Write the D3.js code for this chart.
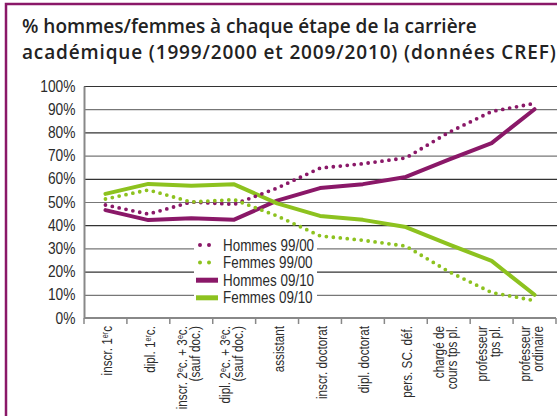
<!DOCTYPE html>
<html>
<head>
<meta charset="utf-8">
<script src="https://cdn.jsdelivr.net/npm/d3@7"></script>
<style>
  body { margin: 0; background: #fff; }
  svg { display: block; }
  .narrow { font-family: "Liberation Sans", Arial, sans-serif; }
</style>
</head>
<body>
<div id="viz"></div>
<script>
var width = 557;
var height = 416;

// categories (label lines, superscripts between ^)
var categories = [
  ["inscr. 1^er^c"],
  ["dipl. 1^er^c."],
  ["inscr. 2^e^c. + 3^e^c.", "(sauf doc.)"],
  ["dipl. 2^e^c. + 3^e^c.", "(sauf doc.)"],
  ["assistant"],
  ["inscr. doctorat"],
  ["dipl. doctorat"],
  ["pers. SC. déf."],
  ["chargé de", "cours tps pl."],
  ["professeur", "tps pl."],
  ["professeur", "ordinaire"]
];

var hommes9900 = [48.7, 44.8, 50, 49, 56, 64.6, 66.5, 69, 80, 89, 92.5];
var femmes9900 = [51.3, 55.2, 50, 51, 44, 35.4, 33.5, 31, 20, 11, 7.5];
var hommes0910 = [46.5, 42.2, 43, 42.4, 50.6, 56, 57.7, 60.8, 68.3, 75.4, 90];
var femmes0910 = [53.5, 57.8, 57, 57.6, 49.4, 44, 42.3, 39.2, 31.7, 24.6, 10];

var yTicks = [0, 10, 20, 30, 40, 50, 60, 70, 80, 90, 100];

var purple = "#8a1868";
var green = "#8dc21f";

var series = [
  { name: "Hommes 99/00", values: hommes9900, color: purple, dotted: true },
  { name: "Femmes 99/00", values: femmes9900, color: green, dotted: true },
  { name: "Hommes 09/10", values: hommes0910, color: purple, dotted: false },
  { name: "Femmes 09/10", values: femmes0910, color: green, dotted: false }
];

var svg = d3.select("#viz")
  .append("svg")
    .attr("width", width)
    .attr("height", height);

// frame
svg.append("path")
  .attr("d", "M6,416 V4 H557")
  .attr("fill", "none")
  .attr("stroke", purple)
  .attr("stroke-width", 2.5);

// title
var title = svg.append("text")
  .attr("fill", "#222")
  .style("font-family", "'Open Sans', sans-serif")
  .style("font-weight", 600)
  .style("font-size", "19px");
title.append("tspan").attr("x", 22).attr("y", 33)
  .text("% hommes/femmes à chaque étape de la carrière");
title.append("tspan").attr("x", 22).attr("y", 59)
  .style("letter-spacing", "0.85px")
  .text("académique (1999/2000 et 2009/2010) (données CREF)");

var x = d3.scaleBand()
  .domain(d3.range(categories.length))
  .range([84, 556]);

var y = d3.scaleLinear()
  .domain([0, 100])
  .range([318, 86]);

// gridlines
svg.append("g")
  .selectAll("line")
  .data(yTicks.filter(function(d) { return d > 0; }))
  .join("line")
    .attr("x1", 84)
    .attr("x2", 557)
    .attr("y1", function(d) { return y(d) + 0.5; })
    .attr("y2", function(d) { return y(d) + 0.5; })
    .attr("stroke", function(d, i) { return i % 2 ? "#333" : "#777"; })
    .attr("stroke-width", 1.2);

// y axis
var yAxis = svg.append("g")
  .attr("transform", "translate(84,0)")
  .call(d3.axisLeft(y).tickValues(yTicks).tickSize(0).tickPadding(10)
    .tickFormat(function(d) { return d + "%"; }));
yAxis.select(".domain").attr("stroke", "#888").attr("stroke-width", 2);
yAxis.selectAll("text")
  .attr("class", "narrow")
  .attr("fill", "#2b2b2b")
  .attr("transform", "scale(0.86,1)")
  .style("font-size", "16px");

// x axis
var xAxis = svg.append("g")
  .attr("transform", "translate(0,318)");
xAxis.append("line")
  .attr("x1", 84).attr("x2", 556)
  .attr("stroke", "#888").attr("stroke-width", 2);
xAxis.selectAll("line.tick")
  .data(d3.range(categories.length + 1))
  .join("line")
    .attr("class", "tick")
    .attr("x1", function(d) { return x.range()[0] + d * x.bandwidth(); })
    .attr("x2", function(d) { return x.range()[0] + d * x.bandwidth(); })
    .attr("y1", 0).attr("y2", 6)
    .attr("stroke", "#888").attr("stroke-width", 1.5);

// x labels, rotated, with superscripts
function addRich(textSel, str) {
  var parts = str.split("^");
  parts.forEach(function(p, i) {
    if (p === "") return;
    var t = textSel.append("tspan").text(p);
    if (i % 2 === 1) {
      t.attr("dy", -4).style("font-size", "8.5px");
    } else if (i > 0) {
      t.attr("dy", 4);
    }
  });
}

categories.forEach(function(lines, i) {
  var cx = x(i) + x.bandwidth() / 2;
  var n = lines.length;
  lines.forEach(function(line, j) {
    var off = n > 1 ? -3 + (j - 0.5) * 13 : 1.5;
    var t = svg.append("text")
      .attr("class", "narrow")
      .attr("text-anchor", "end")
      .attr("fill", "#2b2b2b")
      .style("font-size", "14px")
      .attr("transform", "translate(" + (cx + off + 5) + ",326) rotate(-90) scale(0.84,1)");
    addRich(t, line);
  });
});

// lines
var line = d3.line()
  .x(function(d, i) { return x(i) + x.bandwidth() / 2; })
  .y(function(d) { return y(d); });

// draw solid first, then dotted on top
[2, 3, 0, 1].forEach(function(k) {
  var s = series[k];
  svg.append("path")
    .datum(s.values)
    .attr("fill", "none")
    .attr("stroke", s.color)
    .attr("stroke-width", s.dotted ? 3.8 : 4)
    .attr("stroke-linecap", "round")
    .attr("stroke-linejoin", "round")
    .attr("stroke-dasharray", s.dotted ? "0 7" : null)
    .attr("d", line);
});

// legend
var legend = svg.append("g");
legend.append("rect")
  .attr("x", 194).attr("y", 236)
  .attr("width", 123).attr("height", 67)
  .attr("fill", "#fff");

var rows = legend.selectAll("g.row")
  .data(series)
  .join("g")
    .attr("class", "row")
    .attr("transform", function(d, i) { return "translate(0," + (244 + i * 17.6) + ")"; });

rows.append("line")
  .attr("x1", function(d) { return d.dotted ? 200 : 196; })
  .attr("x2", 218)
  .attr("y1", 1).attr("y2", 1)
  .attr("stroke", function(d) { return d.color; })
  .attr("stroke-width", function(d) { return d.dotted ? 4 : 5; })
  .attr("stroke-linecap", function(d) { return d.dotted ? "round" : "butt"; })
  .attr("stroke-dasharray", function(d) { return d.dotted ? "0 9" : null; });

rows.append("text")
  .attr("class", "narrow")
  .attr("transform", "translate(223,6.5) scale(0.84,1)")
  .attr("fill", "#2b2b2b")
  .style("font-size", "16px")
  .text(function(d) { return d.name; });
</script>
</body>
</html>
